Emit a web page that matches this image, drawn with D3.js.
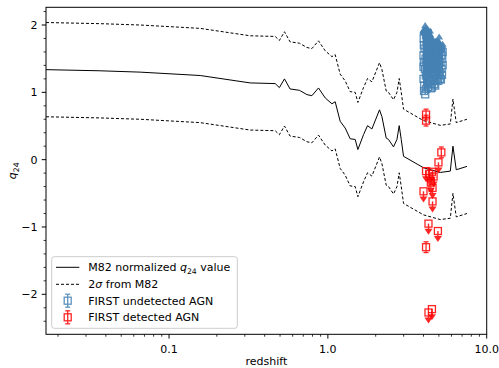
<!DOCTYPE html>
<html>
<head>
<meta charset="utf-8">
<script src="https://cdn.jsdelivr.net/npm/d3@7"></script>
<style>
  body { margin: 0; background: #fff; }
  text { font-family: "DejaVu Sans", sans-serif; }
</style>
</head>
<body>
<div id="chart"></div>
<script>
// M82 template track: redshift vs normalized q24
const m82Redshift = [0.0168, 0.0367, 0.0658, 0.157, 0.324, 0.466, 0.495, 0.533, 0.578, 0.662, 0.738, 0.793,
  0.873, 0.962, 1.06, 1.112, 1.195, 1.285, 1.382, 1.486, 1.545, 1.676, 1.777, 1.893, 2.114, 2.189, 2.33,
  2.409, 2.59, 2.722, 2.813, 2.897, 2.995, 4.0, 5.1, 5.9, 6.13, 6.43, 7.51];
const m82Q = [1.337, 1.32, 1.30, 1.25, 1.14, 1.13, 1.07, 1.20, 1.05, 1.03, 0.966, 0.95,
  1.065, 0.917, 0.83, 0.86, 0.57, 0.47, 0.31, 0.30, 0.15, 0.37, 0.505, 0.456, 0.74, 0.64, 0.32,
  0.30, 0.19, 0.30, 0.505, 0.30, 0.05, -0.12, -0.19, -0.17, 0.20, -0.15, -0.10];
const twoSigma = 0.70;

// FIRST undetected AGN: [redshift, q24, limit length] (lower limits, arrows up)
const undetectedAGN = [
  [4.00, 1.20, 0.70], [4.02, 1.45, 0.45], [4.04, 1.10, 0.82], [4.06, 1.65, 0.27], [4.08, 1.35, 0.58],
  [4.10, 0.97, 1.03], [4.12, 1.50, 0.42], [4.14, 1.25, 0.68], [4.16, 1.05, 0.88], [4.18, 1.40, 0.52],
  [4.20, 1.70, 0.22], [4.22, 1.15, 0.76], [4.24, 1.55, 0.35], [4.26, 1.30, 0.60], [4.28, 1.08, 0.82],
  [4.30, 1.45, 0.44], [4.33, 1.22, 0.66], [4.36, 1.60, 0.27], [4.39, 1.12, 0.74], [4.42, 1.38, 0.48],
  [4.00, 1.55, 0.38], [4.01, 1.80, 0.12], [4.02, 1.70, 0.22], [4.00, 1.38, 0.55], [4.03, 1.02, 0.90],
  [4.45, 1.06, 0.72], [4.48, 1.28, 0.50], [4.52, 1.07, 0.70], [4.55, 1.45, 0.32], [4.58, 1.18, 0.58],
  [4.62, 1.35, 0.42], [4.66, 1.12, 0.64], [4.70, 1.50, 0.25], [4.74, 1.10, 0.66], [4.78, 1.30, 0.46],
  [4.82, 1.18, 0.58], [4.86, 1.42, 0.34], [4.90, 1.22, 0.54], [4.95, 1.17, 0.60], [5.00, 1.38, 0.36],
  [5.02, 1.25, 0.58], [5.06, 1.30, 0.44], [5.10, 1.20, 0.52], [5.15, 1.19, 0.50], [5.20, 1.35, 0.32],
  [5.23, 1.26, 0.40], [5.28, 1.40, 0.22], [5.25, 1.50, 0.20], [5.28, 1.60, 0.12], [4.50, 1.62, 0.14],
  [4.65, 1.58, 0.16], [4.85, 1.60, 0.12], [4.40, 1.72, 0.20], [4.30, 1.78, 0.14], [5.12, 1.44, 0.26],
  [4.15, 1.85, 0.10], [4.25, 1.88, 0.06], [4.60, 1.70, 0.08], [4.75, 1.68, 0.08], [4.92, 1.50, 0.20],
  [5.18, 1.55, 0.15], [4.35, 1.35, 0.50], [4.68, 1.26, 0.48]
];

// FIRST detected AGN with upper limits: [redshift, q24, limit length]
const detectedAGNLimits = [
  [4.97, -0.04, 0.12], [4.15, -0.17, 0.12], [4.35, -0.21, 0.12], [4.52, -0.18, 0.12], [4.63, -0.25, 0.12],
  [4.45, -0.34, 0.12], [4.56, -0.42, 0.12], [4.00, -0.47, 0.12], [4.56, -0.62, 0.12], [4.30, -0.95, 0.12],
  [4.93, -1.06, 0.12], [4.52, -2.22, 0.12], [4.30, -2.27, 0.12]
];
// FIRST detected AGN with measured q24: [redshift, q24, error]
const detectedAGNMeasured = [
  [4.15, 0.67, 0.08], [4.15, 0.58, 0.08], [5.18, 0.108, 0.08], [4.15, -1.30, 0.08]
];

const xTickValues = [0.1, 1, 10];
const xTickLabels = ['0.1', '1.0', '10.0'];
const yTickValues = [-2, -1, 0, 1, 2];

const W = 499, H = 368;
const plot = { left: 46, right: 486.7, top: 7.3, bottom: 334.3 };
const blue = '#4682b4', red = '#ff0000';

const x = d3.scaleLog().domain([0.0168, 10]).range([plot.left, plot.right]);
const y = d3.scaleLinear().domain([-2.594, 2.263]).range([plot.bottom, plot.top]);

const svg = d3.select('#chart').append('svg')
  .attr('width', W).attr('height', H);

svg.append('clipPath').attr('id', 'clip')
  .append('rect')
  .attr('x', plot.left).attr('y', plot.top)
  .attr('width', plot.right - plot.left).attr('height', plot.bottom - plot.top);

const body = svg.append('g').attr('clip-path', 'url(#clip)');

const track = m82Redshift.map((z, i) => [z, m82Q[i]]);
const line = d3.line().x(d => x(d[0])).y(d => y(d[1]));

body.append('path')
  .datum(track)
  .attr('d', line)
  .attr('fill', 'none').attr('stroke', '#000').attr('stroke-width', 1);

[twoSigma, -twoSigma].forEach(off => {
  body.append('path')
    .datum(track.map(d => [d[0], d[1] + off]))
    .attr('d', line)
    .attr('fill', 'none').attr('stroke', '#000').attr('stroke-width', 1)
    .attr('stroke-dasharray', '3,2');
});

// errorbar with limit arrow; dir = +1 (lower limit, arrow up) or -1 (upper limit, arrow down)
function limitPoint(g, d, color, dir, alpha) {
  const cx = x(d[0]), cy = y(d[1]), ey = y(d[1] + dir * d[2]);
  const p = g.append('g').attr('opacity', alpha);
  p.append('line')
    .attr('x1', cx).attr('x2', cx).attr('y1', cy).attr('y2', ey)
    .attr('stroke', color).attr('stroke-width', 1.4);
  const tip = ey - dir * 3, base = ey + dir * 3;
  p.append('path')
    .attr('d', `M${cx},${tip}L${cx - 4},${base}L${cx + 4},${base}Z`)
    .attr('fill', color);
  p.append('rect')
    .attr('x', cx - 3.5).attr('y', cy - 3.5).attr('width', 7).attr('height', 7)
    .attr('fill', 'none').attr('stroke', color).attr('stroke-width', 1.3);
}

function barPoint(g, cx, cy, y1, y2, color, alpha) {
  const p = g.append('g').attr('opacity', alpha);
  p.append('line')
    .attr('x1', cx).attr('x2', cx).attr('y1', y1).attr('y2', y2)
    .attr('stroke', color).attr('stroke-width', 1.3);
  [y1, y2].forEach(v => p.append('line')
    .attr('x1', cx - 2.5).attr('x2', cx + 2.5).attr('y1', v).attr('y2', v)
    .attr('stroke', color).attr('stroke-width', 1.3));
  p.append('rect')
    .attr('x', cx - 3.5).attr('y', cy - 3.5).attr('width', 7).attr('height', 7)
    .attr('fill', 'none').attr('stroke', color).attr('stroke-width', 1.3);
}

undetectedAGN.forEach(d => limitPoint(body, d, blue, 1, 0.88));
detectedAGNLimits.forEach(d => limitPoint(body, d, red, -1, 0.85));
detectedAGNMeasured.forEach(d => barPoint(body, x(d[0]), y(d[1]), y(d[1] + d[2]), y(d[1] - d[2]), red, 0.85));

// axes
const xMinor = [];
[0.01, 0.1, 1].forEach(dec => { for (let k = 2; k <= 9; k++) xMinor.push(dec * k); });
const xAxis = svg.append('g');
xMinor.filter(v => v >= 0.0168 && v <= 10).forEach(v => {
  xAxis.append('line').attr('x1', x(v)).attr('x2', x(v))
    .attr('y1', plot.bottom).attr('y2', plot.bottom + 2.4)
    .attr('stroke', '#000').attr('stroke-width', 0.8);
});
xTickValues.forEach((v, i) => {
  xAxis.append('line').attr('x1', x(v)).attr('x2', x(v))
    .attr('y1', plot.bottom).attr('y2', plot.bottom + 4.3)
    .attr('stroke', '#000').attr('stroke-width', 1);
  xAxis.append('text').attr('x', x(v)).attr('y', 352.7)
    .attr('text-anchor', 'middle').attr('font-size', 11).text(xTickLabels[i]);
});

const yAxis = svg.append('g');
d3.range(-2.4, 2.21, 0.2).map(v => Math.round(v * 10) / 10)
  .filter(v => !yTickValues.includes(v))
  .forEach(v => {
    yAxis.append('line').attr('x1', plot.left - 2.4).attr('x2', plot.left)
      .attr('y1', y(v)).attr('y2', y(v))
      .attr('stroke', '#000').attr('stroke-width', 0.8);
  });
yTickValues.forEach(v => {
  yAxis.append('line').attr('x1', plot.left - 4.3).attr('x2', plot.left)
    .attr('y1', y(v)).attr('y2', y(v))
    .attr('stroke', '#000').attr('stroke-width', 1);
  yAxis.append('text').attr('x', 37.5).attr('y', y(v)).attr('dy', '0.36em')
    .attr('text-anchor', 'end').attr('font-size', 11)
    .text(v < 0 ? '\u2212' + Math.abs(v) : String(v));
});

svg.append('rect')
  .attr('x', plot.left).attr('y', plot.top)
  .attr('width', plot.right - plot.left).attr('height', plot.bottom - plot.top)
  .attr('fill', 'none').attr('stroke', '#000').attr('stroke-width', 1);

svg.append('text').attr('x', (plot.left + plot.right) / 2).attr('y', 365)
  .attr('text-anchor', 'middle').attr('font-size', 11).text('redshift');

const yl = svg.append('text')
  .attr('transform', `translate(16,${(plot.top + plot.bottom) / 2}) rotate(-90)`)
  .attr('text-anchor', 'middle').attr('font-size', 11);
yl.append('tspan').attr('font-style', 'italic').text('q');
yl.append('tspan').attr('font-size', 7.7).attr('dy', 2.5).text('24');

// legend
const lg = svg.append('g');
lg.append('rect')
  .attr('x', 51.7).attr('y', 256.7).attr('width', 185.6).attr('height', 71.6)
  .attr('rx', 2.5)
  .attr('fill', '#fff').attr('fill-opacity', 0.8)
  .attr('stroke', '#cccccc').attr('stroke-width', 1);

const rows = [267.3, 284.3, 300.7, 317.3];
lg.append('line').attr('x1', 56).attr('x2', 79.3).attr('y1', rows[0]).attr('y2', rows[0])
  .attr('stroke', '#000').attr('stroke-width', 1);
lg.append('line').attr('x1', 56).attr('x2', 79.3).attr('y1', rows[1]).attr('y2', rows[1])
  .attr('stroke', '#000').attr('stroke-width', 1).attr('stroke-dasharray', '3,2');
barPoint(lg, 67.7, rows[2], rows[2] - 6.5, rows[2] + 6.5, blue, 0.85);
barPoint(lg, 67.7, rows[3], rows[3] - 6.5, rows[3] + 6.5, red, 0.85);

const t1 = lg.append('text').attr('x', 88.3).attr('y', rows[0] + 3.9).attr('font-size', 11);
t1.append('tspan').text('M82 normalized ');
t1.append('tspan').attr('font-style', 'italic').text('q');
t1.append('tspan').attr('font-size', 7.7).attr('dy', 2.5).text('24');
t1.append('tspan').attr('dy', -2.5).text(' value');

const t2 = lg.append('text').attr('x', 88.3).attr('y', rows[1] + 3.9).attr('font-size', 11);
t2.append('tspan').text('2');
t2.append('tspan').attr('font-style', 'italic').text('\u03c3');
t2.append('tspan').text(' from M82');

lg.append('text').attr('x', 88.3).attr('y', rows[2] + 3.9).attr('font-size', 11)
  .text('FIRST undetected AGN');
lg.append('text').attr('x', 88.3).attr('y', rows[3] + 3.9).attr('font-size', 11)
  .text('FIRST detected AGN');
</script>
</body>
</html>
